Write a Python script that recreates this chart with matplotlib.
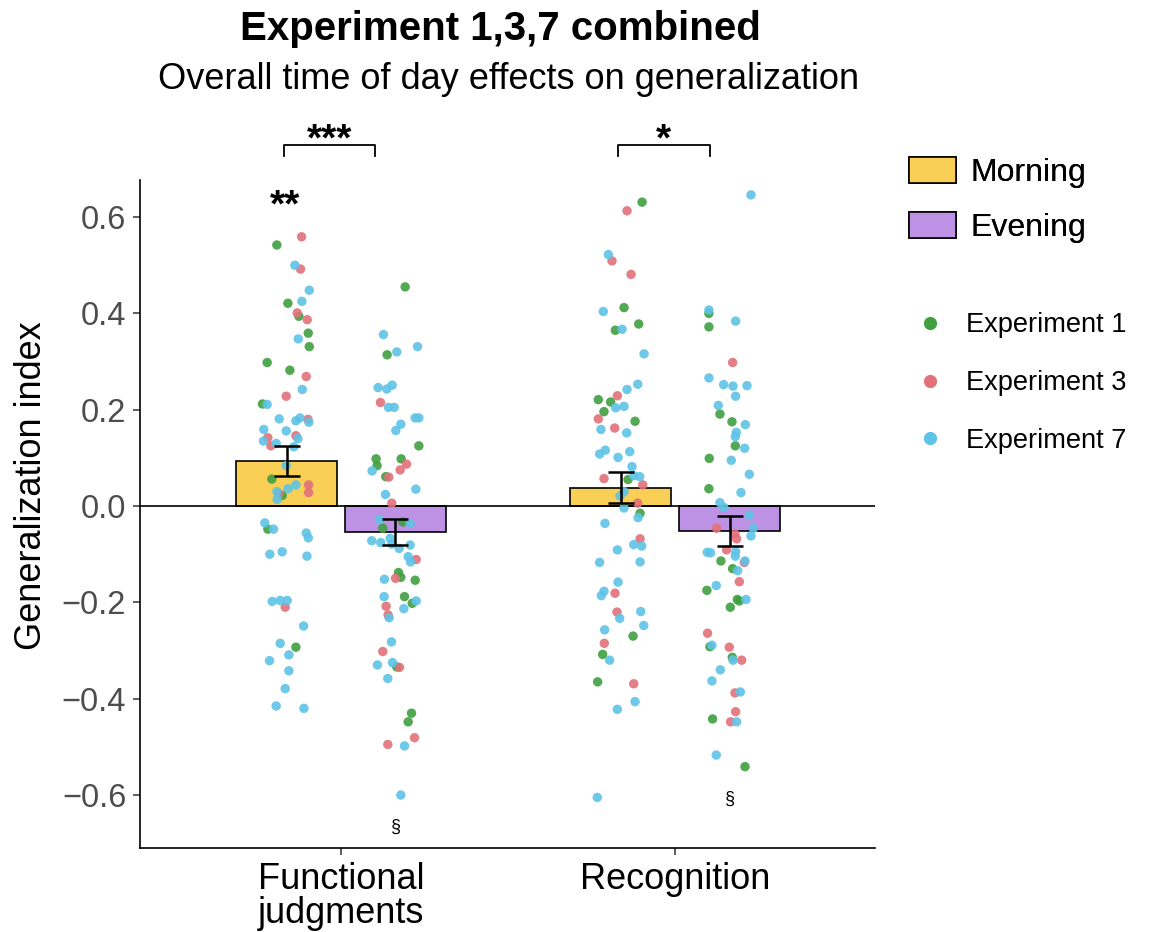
import matplotlib
matplotlib.use("Agg")
import matplotlib.pyplot as plt
from matplotlib.patches import Patch
from matplotlib.lines import Line2D

plt.rcParams['font.family'] = ['Liberation Sans', 'DejaVu Sans']

tasks = ["Functional\njudgments", "Recognition"]
sessions = ["Morning", "Evening"]
exp_codes = [1, 3, 7]
exp_labels = ["Experiment 1", "Experiment 3", "Experiment 7"]

# bar means and standard errors (task order)
mean_morning = [0.093, 0.0385]
mean_evening = [-0.0535, -0.052]
se_morning = [0.031, 0.0325]
se_evening = [0.0275, 0.031]

# participant points: horizontal jitter, value, experiment
fm_jit = [0.045, -0.029, 0.025, 0.042, 0.068, 0.046, 0.004, 0.032, 0.037, 0.062,
          0.065, 0.035, 0.068, -0.058, 0.010, 0.059, 0.047, -0.001, -0.058, -0.072,
          -0.022, 0.040, 0.028, 0.064, 0.067, -0.068, -0.001, 0.028, 0.034, -0.056,
          -0.069, -0.031, -0.047, 0.022, -0.001, -0.044, 0.028, 0.005, 0.066, 0.066,
          -0.029, -0.023, -0.013, -0.028, -0.065, -0.056, -0.039, 0.059, 0.065, -0.050,
          -0.013, 0.061, -0.043, -0.019, 0.002, -0.004, 0.051, -0.019, 0.028, 0.007,
          -0.051, 0.007, -0.004, -0.031, 0.052]
fm_val = [0.559, 0.542, 0.500, 0.492, 0.448, 0.425, 0.421, 0.401, 0.394, 0.387,
          0.359, 0.347, 0.331, 0.298, 0.282, 0.269, 0.242, 0.228, 0.211, 0.212,
          0.181, 0.183, 0.177, 0.180, 0.174, 0.159, 0.156, 0.146, 0.140, 0.142,
          0.135, 0.130, 0.125, 0.123, 0.084, 0.056, 0.044, 0.036, 0.044, 0.028,
          0.030, 0.026, 0.022, 0.014, -0.035, -0.048, -0.048, -0.056, -0.066, -0.100,
          -0.095, -0.104, -0.198, -0.196, -0.196, -0.210, -0.249, -0.285, -0.293, -0.309,
          -0.321, -0.342, -0.379, -0.415, -0.420]
fm_exp = [3, 1, 7, 3, 7, 7, 1, 3, 1, 3, 1, 7, 1, 1, 1, 3, 7, 3, 7, 1,
          7, 7, 7, 3, 7, 7, 7, 3, 7, 3, 7, 7, 3, 7, 7, 1, 7, 7, 3, 3,
          7, 3, 1, 7, 7, 1, 7, 7, 7, 7, 7, 7, 7, 7, 7, 3, 7, 7, 1, 7,
          7, 7, 7, 7, 7]

fe_jit = [0.029, -0.036, 0.066, 0.004, -0.025, -0.052, -0.010, -0.026, -0.045, -0.021,
          -0.004, 0.059, 0.070, 0.016, 0.001, 0.070, -0.058, 0.017, -0.055, 0.033,
          -0.070, 0.014, -0.029, -0.020, -0.030, 0.061, -0.011, -0.048, 0.022, 0.044,
          -0.038, -0.071, -0.044, -0.016, -0.011, 0.011, 0.044, 0.038, 0.045, 0.062,
          0.009, 0.016, 0.000, -0.033, 0.059, -0.034, 0.027, 0.050, 0.062, -0.028,
          0.025, -0.022, -0.019, -0.012, -0.038, -0.054, -0.009, 0.004, 0.012, -0.023,
          0.048, 0.038, 0.057, -0.023, 0.027, 0.016]
fe_val = [0.455, 0.356, 0.331, 0.320, 0.314, 0.246, 0.251, 0.243, 0.215, 0.205,
          0.205, 0.183, 0.183, 0.170, 0.157, 0.125, 0.098, 0.098, 0.084, 0.087,
          0.073, 0.075, 0.061, 0.060, 0.024, 0.035, 0.006, -0.028, -0.033, -0.036,
          -0.046, -0.072, -0.076, -0.067, -0.079, -0.088, -0.081, -0.105, -0.116, -0.111,
          -0.138, -0.148, -0.150, -0.152, -0.154, -0.188, -0.188, -0.202, -0.197, -0.208,
          -0.213, -0.226, -0.232, -0.282, -0.302, -0.330, -0.325, -0.334, -0.335, -0.358,
          -0.430, -0.448, -0.481, -0.495, -0.498, -0.600]
fe_exp = [1, 7, 7, 7, 1, 7, 7, 7, 3, 7, 7, 7, 7, 7, 7, 1, 1, 1, 1, 3,
          7, 3, 1, 3, 7, 7, 3, 7, 1, 7, 1, 7, 7, 7, 7, 7, 7, 7, 7, 3,
          1, 1, 3, 7, 1, 7, 1, 1, 7, 3, 7, 3, 7, 7, 3, 7, 7, 1, 3, 7,
          1, 1, 3, 3, 7, 7]

rm_jit = [0.064, 0.019, -0.037, -0.026, 0.031, -0.052, 0.010, 0.054, 0.004, -0.016,
          0.070, 0.051, 0.019, -0.010, -0.067, -0.030, -0.015, 0.010, -0.050, -0.067,
          0.043, -0.059, -0.018, 0.018, -0.046, -0.063, 0.027, -0.008, 0.034, 0.039,
          0.057, -0.050, 0.022, 0.066, 0.010, -0.002, 0.051, 0.010, 0.058, 0.052,
          -0.047, 0.058, 0.039, 0.063, -0.010, -0.063, 0.058, -0.008, -0.050, -0.058,
          -0.017, -0.011, -0.003, 0.060, 0.069, -0.048, 0.037, -0.049, -0.054, -0.033,
          -0.069, 0.039, 0.043, -0.010, -0.070]
rm_val = [0.631, 0.613, 0.522, 0.509, 0.481, 0.404, 0.412, 0.378, 0.367, 0.365,
          0.316, 0.253, 0.242, 0.229, 0.221, 0.216, 0.204, 0.207, 0.196, 0.181,
          0.176, 0.159, 0.162, 0.152, 0.116, 0.108, 0.113, 0.101, 0.082, 0.063,
          0.061, 0.057, 0.055, 0.044, 0.030, 0.021, 0.006, -0.004, -0.015, -0.024,
          -0.036, -0.068, -0.080, -0.083, -0.091, -0.117, -0.116, -0.158, -0.177, -0.186,
          -0.181, -0.220, -0.233, -0.219, -0.248, -0.257, -0.270, -0.285, -0.308, -0.320,
          -0.365, -0.369, -0.406, -0.422, -0.605]
rm_exp = [1, 3, 7, 3, 3, 7, 1, 1, 7, 1, 7, 7, 7, 3, 1, 1, 7, 7, 1, 3,
          1, 7, 3, 7, 7, 7, 7, 7, 7, 7, 7, 3, 1, 3, 7, 7, 3, 7, 1, 7,
          7, 3, 7, 7, 7, 7, 7, 7, 7, 7, 3, 3, 7, 7, 7, 7, 1, 3, 1, 7,
          1, 3, 7, 7, 7]

re_jit = [0.064, -0.062, -0.062, 0.018, -0.062, 0.009, -0.062, -0.018, 0.010, 0.052,
          0.018, -0.034, -0.029, 0.007, 0.047, 0.020, 0.017, 0.017, 0.045, -0.061,
          0.005, 0.059, -0.062, 0.034, -0.029, -0.017, 0.059, -0.039, 0.071, 0.016,
          0.021, 0.064, -0.009, -0.067, -0.057, 0.018, 0.017, -0.026, 0.046, 0.044,
          0.009, 0.024, 0.029, -0.040, -0.068, 0.049, 0.023, 0.029, 0.002, -0.066,
          -0.053, -0.059, -0.001, 0.008, 0.010, 0.036, -0.028, -0.053, 0.032, 0.016,
          0.018, -0.051, 0.021, 0.003, -0.040, 0.046]
re_val = [0.646, 0.407, 0.400, 0.384, 0.372, 0.298, 0.266, 0.252, 0.249, 0.250,
          0.228, 0.209, 0.191, 0.175, 0.169, 0.153, 0.144, 0.125, 0.120, 0.099,
          0.095, 0.066, 0.036, 0.028, 0.007, -0.003, -0.019, -0.046, -0.046, -0.058,
          -0.068, -0.062, -0.091, -0.096, -0.097, -0.095, -0.104, -0.114, -0.114, -0.117,
          -0.130, -0.134, -0.157, -0.165, -0.175, -0.194, -0.194, -0.197, -0.210, -0.264,
          -0.289, -0.292, -0.293, -0.314, -0.320, -0.320, -0.340, -0.363, -0.386, -0.388,
          -0.427, -0.442, -0.448, -0.448, -0.517, -0.541]
re_exp = [7, 7, 1, 7, 1, 3, 7, 7, 7, 7, 7, 7, 1, 1, 7, 7, 7, 1, 7, 1,
          7, 7, 1, 7, 7, 7, 7, 3, 7, 3, 3, 7, 3, 7, 7, 7, 7, 1, 7, 3,
          1, 7, 3, 7, 1, 7, 1, 1, 1, 3, 7, 1, 3, 1, 7, 3, 7, 7, 7, 3,
          3, 1, 7, 3, 7, 1]

# significance marks
pair_labels = ["***", "*"]
morning_vs_zero = ["**", ""]
outlier_mark = ["\u00a7", "\u00a7"]
outlier_mark_y = [-0.666, -0.609]

bar_colors = {"Morning": "#f9cf55", "Evening": "#bd92e4"}
exp_colors = {1: "#40a040", 3: "#e2717a", 7: "#5ec3e6"}

fig = plt.figure(figsize=(11.71, 9.32), dpi=100)
ax = fig.add_axes([0.1196, 0.0901, 0.6276, 0.7168])

dodge = 0.163
width = 0.302
xs = [1, 2]

groups = [
    (0, "Morning", fm_jit, fm_val, fm_exp),
    (0, "Evening", fe_jit, fe_val, fe_exp),
    (1, "Morning", rm_jit, rm_val, rm_exp),
    (1, "Evening", re_jit, re_val, re_exp),
]

for i, x in enumerate(xs):
    ax.bar(x - dodge, mean_morning[i], width, color=bar_colors["Morning"],
           edgecolor="black", linewidth=1.2, zorder=1)
    ax.bar(x + dodge, mean_evening[i], width, color=bar_colors["Evening"],
           edgecolor="black", linewidth=1.2, zorder=1)

ax.axhline(0, color="black", linewidth=1.2, zorder=1.5)

for ti, sess, jit, val, exp in groups:
    center = xs[ti] + (-dodge if sess == "Morning" else dodge)
    for code in exp_codes:
        px = [center + j for j, e in zip(jit, exp) if e == code]
        py = [v for v, e in zip(val, exp) if e == code]
        ax.scatter(px, py, s=46, color=exp_colors[code], alpha=0.9,
                   edgecolors="none", zorder=2)

for i, x in enumerate(xs):
    ax.errorbar(x - dodge, mean_morning[i], yerr=se_morning[i], fmt="none",
                ecolor="black", elinewidth=1.8, capsize=9.5, capthick=1.8, zorder=3)
    ax.errorbar(x + dodge, mean_evening[i], yerr=se_evening[i], fmt="none",
                ecolor="black", elinewidth=1.8, capsize=9.5, capthick=1.8, zorder=3)

# brackets between morning and evening
for i, x in enumerate(xs):
    x0, x1 = x - 0.172, x + 0.103
    ax.plot([x0, x0, x1, x1], [0.727, 0.749, 0.749, 0.727], color="black",
            linewidth=1.3, clip_on=False)
    ax.text((x0 + x1) / 2, 0.721, pair_labels[i], ha="center", va="bottom",
            fontsize=28, fontweight="bold", clip_on=False)
    if morning_vs_zero[i]:
        ax.text(x - dodge - 0.005, 0.585, morning_vs_zero[i], ha="center",
                va="bottom", fontsize=28, fontweight="bold")
    ax.text(x + dodge, outlier_mark_y[i], outlier_mark[i], ha="center",
            va="center", fontsize=13)

ax.set_xlim(0.3986, 2.598)
ax.set_ylim(-0.71, 0.677)
ax.set_xticks(xs)
ax.set_xticklabels(tasks, fontsize=26, color="black", linespacing=0.95)
ax.set_yticks([-0.6, -0.4, -0.2, 0.0, 0.2, 0.4, 0.6])
ax.set_yticklabels(["\u22120.6", "\u22120.4", "\u22120.2", "0.0", "0.2", "0.4", "0.6"],
                   fontsize=23.5, color="#4d4d4d")
ax.tick_params(axis="both", length=5, width=1.1, color="#333333", pad=5)
ax.set_ylabel("Generalization index", fontsize=26)
ax.yaxis.set_label_coords(-0.124, 0.542)
for s in ["top", "right"]:
    ax.spines[s].set_visible(False)
for s in ["left", "bottom"]:
    ax.spines[s].set_linewidth(1.2)

fig.text(0.427, 0.969, "Experiment 1,3,7 combined", ha="center", va="center",
         fontsize=29, fontweight="bold")
fig.text(0.434, 0.915, "Overall time of day effects on generalization",
         ha="center", va="center", fontsize=26)

sess_handles = [Patch(facecolor=bar_colors[s], edgecolor="black", linewidth=1.2)
                for s in sessions]
leg1 = fig.legend(sess_handles, sessions, loc="upper left",
                  bbox_to_anchor=(0.7765, 0.832), frameon=False, fontsize=23,
                  handlelength=1.45, handleheight=0.9, labelspacing=0.75,
                  handletextpad=0.45, borderpad=0, borderaxespad=0)
exp_handles = [Line2D([], [], marker="o", linestyle="none", markersize=9.5,
                      markerfacecolor=exp_colors[c], markeredgecolor="none")
               for c in exp_codes]
leg2 = fig.legend(exp_handles, exp_labels, loc="upper left",
                  bbox_to_anchor=(0.780, 0.665), frameon=False, fontsize=19.6,
                  handlelength=1.2, labelspacing=1.17, handletextpad=0.75,
                  borderpad=0, borderaxespad=0)
fig.add_artist(leg1)

fig.savefig("out.png", dpi=100)
